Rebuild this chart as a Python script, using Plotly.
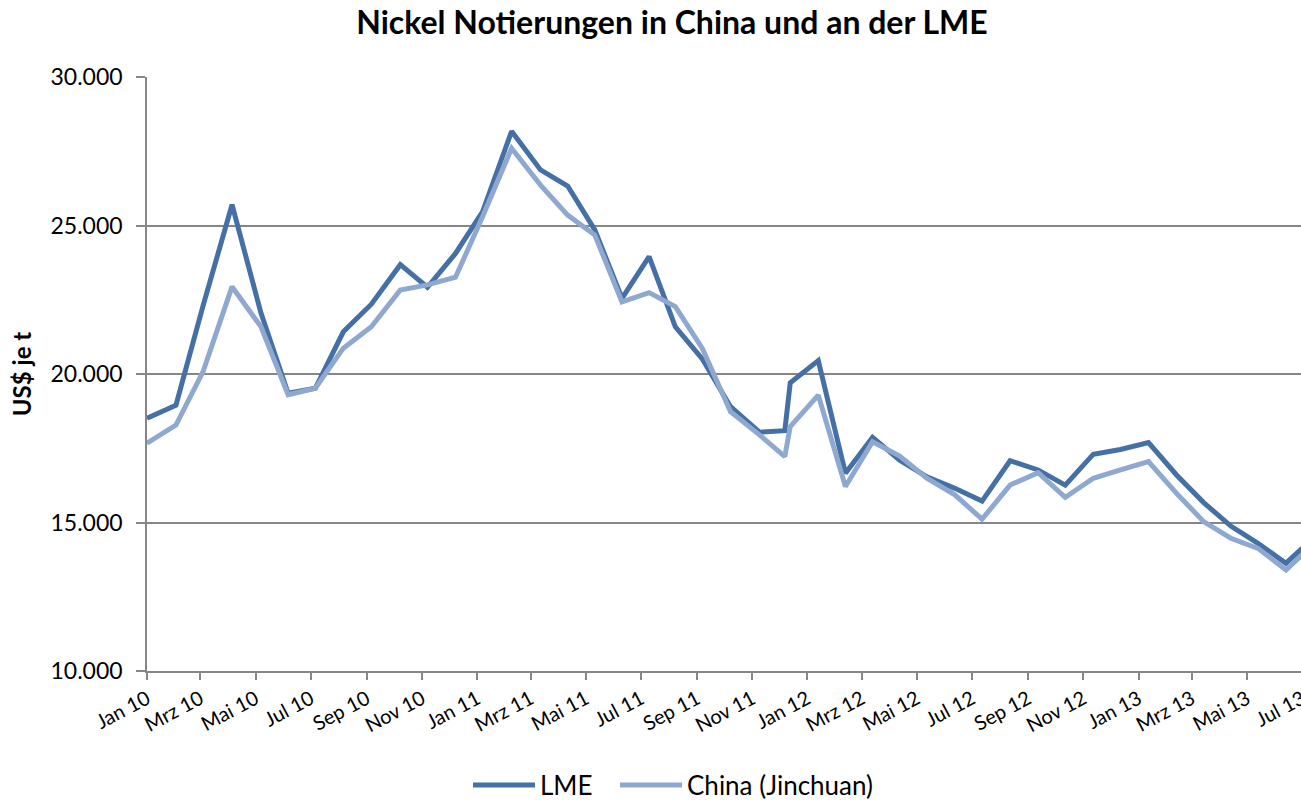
import plotly.graph_objects as go

# ---- data ----
dates = [
    "2010-01-01", "2010-02-02", "2010-03-04", "2010-04-05", "2010-05-07", "2010-06-06",
    "2010-07-06", "2010-08-06", "2010-09-06", "2010-10-08", "2010-11-07", "2010-12-08",
    "2011-01-07", "2011-02-08", "2011-03-12", "2011-04-11", "2011-05-11", "2011-06-10",
    "2011-07-10", "2011-08-08", "2011-09-07", "2011-10-08", "2011-11-09", "2011-12-07",
    "2011-12-13", "2012-01-13", "2012-02-12", "2012-03-13", "2012-04-12", "2012-05-12",
    "2012-06-12", "2012-07-12", "2012-08-12", "2012-09-12", "2012-10-12", "2012-11-12",
    "2012-12-12", "2013-01-12", "2013-02-12", "2013-03-14", "2013-04-13", "2013-05-13",
    "2013-06-13", "2013-07-14",
]

lme = [
    18510, 18950, 22300, 25700, 22050, 19350, 19520, 21420, 22350, 23680, 22920, 24060,
    25470, 28170, 26870, 26330, 24850, 22550, 23950, 21590, 20500, 18900, 18040, 18090,
    19700, 20450, 16660, 17870, 17100, 16540, 16150, 15720, 17080, 16770, 16260, 17300,
    17460, 17690, 16600, 15670, 14880, 14300, 13630, 14500,
]

china = [
    17670, 18280, 20080, 22940, 21590, 19300, 19520, 20870, 21590, 22830, 23000, 23260,
    25300, 27600, 26360, 25350, 24680, 22430, 22740, 22270, 20850, 18730, 17950, 17220,
    18230, 19290, 16210, 17720, 17240, 16490, 15930, 15110, 16260, 16680, 15850, 16490,
    16770, 17050, 15980, 15030, 14470, 14130, 13400, 14300,
]

tick_dates = [
    "2010-01-01", "2010-03-01", "2010-05-01", "2010-07-01", "2010-09-01", "2010-11-01",
    "2011-01-01", "2011-03-01", "2011-05-01", "2011-07-01", "2011-09-01", "2011-11-01",
    "2012-01-01", "2012-03-01", "2012-05-01", "2012-07-01", "2012-09-01", "2012-11-01",
    "2013-01-01", "2013-03-01", "2013-05-01", "2013-07-01",
]
tick_labels = [
    "Jan 10", "Mrz 10", "Mai 10", "Jul 10", "Sep 10", "Nov 10",
    "Jan 11", "Mrz 11", "Mai 11", "Jul 11", "Sep 11", "Nov 11",
    "Jan 12", "Mrz 12", "Mai 12", "Jul 12", "Sep 12", "Nov 12",
    "Jan 13", "Mrz 13", "Mai 13", "Jul 13",
]
y_ticks = [10000, 15000, 20000, 25000, 30000]

FONT = "Lato"
GRID = "#868686"

fig = go.Figure()
fig.add_trace(go.Scatter(
    x=dates, y=lme, mode="lines", name="LME", legend="legend",
    line=dict(color="#4470A6", width=5),
))
fig.add_trace(go.Scatter(
    x=dates, y=china, mode="lines", name="China (Jinchuan)", legend="legend2",
    line=dict(color="#8FA8CF", width=5),
))

W = 1350
PW = 1196
legend_style = dict(
    orientation="h", xanchor="left",
    y=-114 / 594, yanchor="middle",
    font=dict(family=FONT, size=26, color="black"),
    bgcolor="rgba(0,0,0,0)",
    itemwidth=62,
)

fig.update_layout(
    width=W, height=800,
    margin=dict(l=147, r=7, t=77, b=129, autoexpand=False),
    paper_bgcolor="white", plot_bgcolor="white",
    separators=",.",
    font=dict(family=FONT, color="black", size=22),
    title=dict(
        text="<b>Nickel Notierungen in China und an der LME</b>",
        font=dict(family=FONT, size=32, color="black"),
        xref="container", x=672 / W, xanchor="center",
        yref="container", y=1 - 23 / 800, yanchor="middle",
    ),
    showlegend=True,
    legend=dict(legend_style, x=(468 - 147) / PW),
    legend2=dict(legend_style, x=(615 - 147) / PW),
    xaxis=dict(
        type="date",
        range=["2010-01-01", "2013-08-15"],
        tickvals=tick_dates, ticktext=tick_labels,
        tickangle=-28,
        tickfont=dict(family=FONT, size=20, color="black"),
        showgrid=False, zeroline=False,
        showline=True, linecolor=GRID, linewidth=1.5,
        ticks="outside", ticklen=7, tickcolor=GRID, tickwidth=1.5,
        automargin=False,
    ),
    yaxis=dict(
        range=[10000, 30000],
        tickvals=y_ticks, tickformat=",d",
        tickfont=dict(family=FONT, size=23, color="black"),
        showgrid=True, gridcolor=GRID, gridwidth=1.5,
        zeroline=False,
        showline=True, linecolor=GRID, linewidth=1.5,
        ticks="outside", ticklen=9, tickcolor=GRID, tickwidth=1.5,
        ticklabelstandoff=9,
        title=dict(text="<b>US$ je t</b>", font=dict(family=FONT, size=24, color="black"), standoff=12),
        automargin=False,
    ),
)

fig.write_html(
    "out.html",
    config={"displayModeBar": False},
    post_script="document.body.style.margin='0';document.body.style.overflow='hidden';",
)
